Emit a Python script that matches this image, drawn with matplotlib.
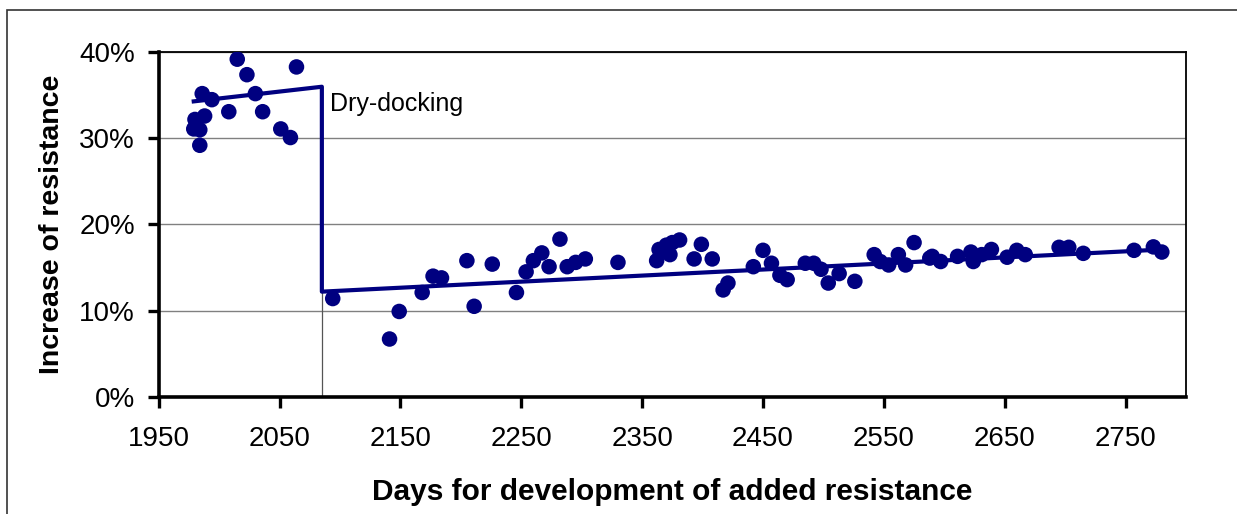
"""Added resistance before and after dry-docking."""

import matplotlib
matplotlib.use("Agg")
import matplotlib.pyplot as plt
from matplotlib.patches import Rectangle
from matplotlib.ticker import FuncFormatter, MultipleLocator

plt.rcParams["font.family"] = ["Liberation Sans", "DejaVu Sans"]

NAVY = "#000080"

# measured points (days, % increase of resistance)
days = [
    2015, 2023, 2064, 1986, 1994, 2030, 2008, 2036, 1988, 1980,
    1979, 1984, 1984, 2051, 2059,
    2094, 2141, 2149, 2168, 2177, 2184, 2205, 2211, 2226, 2246,
    2254, 2260, 2267, 2273, 2282, 2288, 2295, 2303, 2330,
    2362, 2364, 2370, 2375, 2381, 2373, 2399, 2393, 2408, 2417,
    2421, 2442, 2450, 2457, 2464, 2470, 2485, 2492, 2498, 2504,
    2513, 2526, 2542, 2547, 2554, 2562, 2568, 2575, 2588, 2597,
    2590, 2611, 2622, 2624, 2631, 2639, 2652, 2660, 2667, 2695,
    2703, 2715, 2757, 2773, 2780,
]
resistance = [
    39.2, 37.4, 38.3, 35.2, 34.5, 35.2, 33.1, 33.1, 32.6, 32.2,
    31.1, 31.0, 29.2, 31.1, 30.1,
    11.4, 6.7, 9.9, 12.1, 14.0, 13.8, 15.8, 10.5, 15.4, 12.1,
    14.5, 15.8, 16.7, 15.1, 18.3, 15.1, 15.6, 16.0, 15.6,
    15.8, 17.1, 17.6, 17.9, 18.2, 16.5, 17.7, 16.0, 16.0, 12.4,
    13.2, 15.1, 17.0, 15.5, 14.1, 13.6, 15.5, 15.5, 14.8, 13.2,
    14.3, 13.4, 16.5, 15.7, 15.3, 16.5, 15.3, 17.9, 16.1, 15.7,
    16.3, 16.3, 16.8, 15.7, 16.5, 17.1, 16.2, 17.0, 16.5, 17.35,
    17.35, 16.65, 17.0, 17.4, 16.8,
]

# trend lines with the drop at dry-docking
trend_days = [1979, 2085, 2085, 2781]
trend_res = [34.3, 36.0, 12.2, 17.1]
dock_day = 2085
dock_res = 12.2

x_ticks = [1950, 2050, 2150, 2250, 2350, 2450, 2550, 2650, 2750]

fig = plt.figure(figsize=(12.37, 5.14), dpi=100)
ax = fig.add_axes([158.7 / 1237, 1 - 396.7 / 514,
                   (1186 - 158.7) / 1237, (396.7 - 52.3) / 514])

# outer chart frame
fig.patches.append(Rectangle((7 / 1237, -0.1), 1.2, 1 - 10 / 514 + 0.1,
                             transform=fig.transFigure, fill=False,
                             edgecolor="#333333", linewidth=1.2))

ax.set_xlim(1950, 2800)
ax.set_ylim(0, 40)
ax.set_xticks(x_ticks)
ax.yaxis.set_major_locator(MultipleLocator(10))
ax.yaxis.set_major_formatter(FuncFormatter(lambda v, _: f"{v:.0f}%"))

ax.grid(axis="y", color="#808080", linewidth=1.0)
ax.set_axisbelow(True)

for side in ("left", "bottom"):
    ax.spines[side].set_linewidth(2.6)
for side in ("top", "right"):
    ax.spines[side].set_linewidth(1.3)
ax.tick_params(axis="both", direction="out", length=8, width=2.4,
               labelsize=20)
ax.tick_params(axis="x", pad=13)
ax.tick_params(axis="y", pad=9)

ax.plot([dock_day, dock_day], [0, dock_res], color="#555555", linewidth=0.9,
        zorder=2)
ax.plot(trend_days, trend_res, color=NAVY, linewidth=3, zorder=3)
ax.scatter(days, resistance, s=125, color=NAVY, edgecolors="none", zorder=4)

ax.text(2092, 34.0, "Dry-docking", fontsize=18, ha="left", va="center")

ax.set_xlabel("Days for development of added resistance", fontsize=21.5,
              fontweight="bold", labelpad=19)
ax.set_ylabel("Increase of resistance", fontsize=20.5, fontweight="bold",
              labelpad=10)

fig.savefig("out.png", dpi=100)
plt.close(fig)
